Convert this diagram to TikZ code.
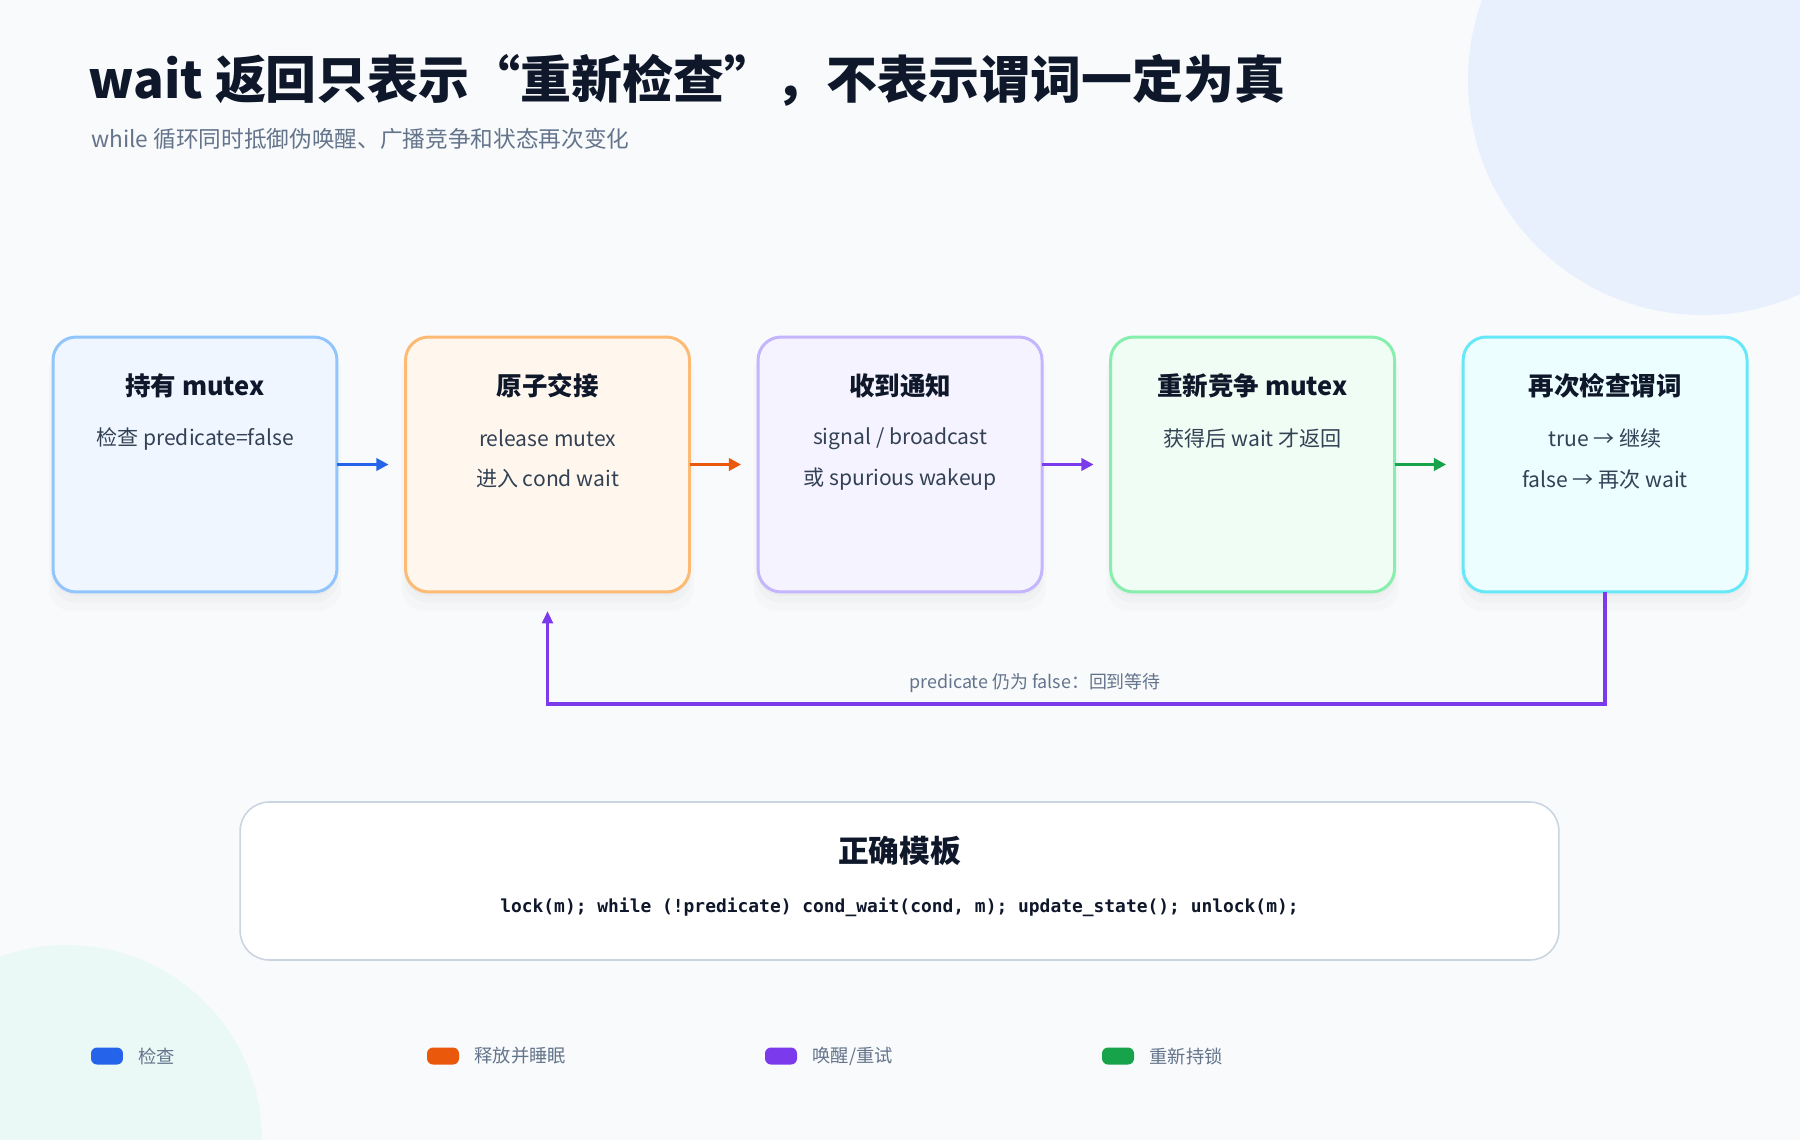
\documentclass[tikz,border=0pt]{standalone}
\usepackage{fontspec}
\setmainfont{Noto Sans CJK SC}
\setmonofont{DejaVu Sans Mono}
\usetikzlibrary{positioning, arrows.meta, calc, shadows}

\definecolor{pagebg}{HTML}{F8FAFC}
\definecolor{ink}{HTML}{0F172A}
\definecolor{bodyink}{HTML}{334155}
\definecolor{muted}{HTML}{64748B}
\definecolor{blobblue}{HTML}{E8F0FD}
\definecolor{blobmint}{HTML}{EAF9F6}
\definecolor{cblue}{HTML}{2563EB}
\definecolor{corange}{HTML}{EA580C}
\definecolor{cpurple}{HTML}{7C3AED}
\definecolor{cgreen}{HTML}{16A34A}
\definecolor{edgeblue}{HTML}{93C5FD}
\definecolor{fillblue}{HTML}{EFF6FF}
\definecolor{edgeorange}{HTML}{FDBA74}
\definecolor{fillorange}{HTML}{FFF7ED}
\definecolor{edgeviolet}{HTML}{C4B5FD}
\definecolor{fillviolet}{HTML}{F5F3FF}
\definecolor{edgegreen}{HTML}{86EFAC}
\definecolor{fillgreen}{HTML}{F0FDF4}
\definecolor{edgecyan}{HTML}{67E8F9}
\definecolor{fillcyan}{HTML}{ECFEFF}
\definecolor{edgegray}{HTML}{CBD5E1}

\begin{document}
\begin{tikzpicture}[x=0.02cm, y=0.02cm, node distance=1.372cm]
    \tikzstyle{stage} = [rectangle, rounded corners=0.46cm, line width=1.7pt, outer sep=0pt, inner sep=0pt,
                         minimum width=5.68cm, minimum height=5.1cm,
                         drop shadow={shadow xshift=0pt, shadow yshift=-0.3cm, shadow scale=1.03, opacity=0.015, fill=black},
                         drop shadow={shadow xshift=0pt, shadow yshift=-0.18cm, shadow scale=1.01, opacity=0.02, fill=black},
                         drop shadow={shadow xshift=0pt, shadow yshift=-0.08cm, opacity=0.02, fill=black}]
    \tikzstyle{stagetitle} = [font=\fontsize{14.5}{17}\bfseries, text=ink, inner sep=0pt]
    \tikzstyle{stagetext} = [font=\fontsize{12}{14}\selectfont, text=bodyink, inner sep=0pt]
    \tikzstyle{flow} = [line width=2.1pt, -{Triangle[length=7pt, width=7pt]}, shorten >=0.34cm]
    \tikzstyle{swatch} = [rectangle, rounded corners=0.12cm, minimum width=0.64cm, minimum height=0.34cm, inner sep=0pt]
    \tikzstyle{legendtext} = [font=\fontsize{10.4}{12}\selectfont, text=muted, inner sep=0pt]

    % Page and background blobs
    \useasboundingbox (0,0) rectangle (1800,-1140);
    \fill[pagebg] (0,0) rectangle (1800,-1140);
    \begin{scope}
        \clip (0,0) rectangle (1800,-1140);
        \fill[blobblue] (1703,-80) circle (235);
        \fill[blobmint] (67,-1140) circle (195);
    \end{scope}

    % Heading
    \node[anchor=west, inner sep=0pt, font=\fontsize{29}{34}\bfseries, text=ink] (title) at (88,-80)
        {wait 返回只表示“重新检查”，不表示谓词一定为真};
    \node[anchor=west, inner sep=0pt, font=\fontsize{12.9}{15}\selectfont, text=muted] (subtitle) at (91,-139)
        {while 循环同时抵御伪唤醒、广播竞争和状态再次变化};

    % Stages
    \node[stage, draw=edgeblue, fill=fillblue] (hold) at (195,-464.5) {};
    \node[stage, draw=edgeorange, fill=fillorange, right=of hold] (swap) {};
    \node[stage, draw=edgeviolet, fill=fillviolet, right=of swap] (notify) {};
    \node[stage, draw=edgegreen, fill=fillgreen, right=of notify] (relock) {};
    \node[stage, draw=edgecyan, fill=fillcyan, right=of relock] (recheck) {};

    \node[stagetitle] (holdT) at ($(hold.north)+(0,-49)$) {持有 mutex};
    \node[stagetext] (holdA) at ($(hold.north)+(0,-101.5)$) {检查 predicate=false};

    \node[stagetitle] (swapT) at ($(swap.north)+(0,-49)$) {原子交接};
    \node[stagetext] (swapA) at ($(swap.north)+(0,-101.5)$) {release mutex};
    \node[stagetext] (swapB) at ($(swap.north)+(0,-142)$) {进入 cond wait};

    \node[stagetitle] (notifyT) at ($(notify.north)+(0,-49)$) {收到通知};
    \node[stagetext] (notifyA) at ($(notify.north)+(0,-101.5)$) {signal / broadcast};
    \node[stagetext] (notifyB) at ($(notify.north)+(0,-142)$) {或 spurious wakeup};

    \node[stagetitle] (relockT) at ($(relock.north)+(0,-49)$) {重新竞争 mutex};
    \node[stagetext] (relockA) at ($(relock.north)+(0,-101.5)$) {获得后 wait 才返回};

    \node[stagetitle] (recheckT) at ($(recheck.north)+(0,-49)$) {再次检查谓词};
    \node[stagetext] (recheckA) at ($(recheck.north)+(0,-101.5)$) {true → 继续};
    \node[stagetext] (recheckB) at ($(recheck.north)+(0,-142)$) {false → 再次 wait};

    % Arrows
    \draw[flow, cblue] (hold.east) -- (swap.west);
    \draw[flow, corange] (swap.east) -- (notify.west);
    \draw[flow, cpurple] (notify.east) -- (relock.west);
    \draw[flow, cgreen] (relock.east) -- (recheck.west);

    % Loop back
    \draw[cpurple, line width=2pt, -{Triangle[length=7pt, width=6pt]}, shorten >=0.38cm]
        (recheck.south) -- ++(0,-112) -| (swap.south);
    \node[font=\fontsize{10.2}{12}\selectfont, text=muted, inner sep=0pt] (loopnote) at (1035,-683)
        {predicate 仍为 false：回到等待};

    % Template
    \node[rectangle, rounded corners=0.58cm, draw=edgegray, line width=0.9pt, fill=white,
          minimum width=26.38cm, minimum height=3.16cm] (tmpl) at (899.5,-881) {};
    \node[font=\fontsize{17.5}{20}\bfseries, text=ink, inner sep=0pt] (tmplT) at ($(tmpl.north)+(0,-50)$) {正确模板};
    \node[font=\fontsize{10.2}{12}\ttfamily\bfseries, text=ink, inner sep=0pt] (tmplC) at ($(tmpl.north)+(0,-106)$)
        {lock(m); while (!predicate) cond\_wait(cond, m); update\_state(); unlock(m);};

    % Legend
    \node[swatch, fill=cblue] (keyA) at (107,-1056) {};
    \node[legendtext, right=0.3cm of keyA] {检查};
    \node[swatch, fill=corange] (keyB) at (443,-1056) {};
    \node[legendtext, right=0.3cm of keyB] {释放并睡眠};
    \node[swatch, fill=cpurple] (keyC) at (781,-1056) {};
    \node[legendtext, right=0.3cm of keyC] {唤醒/重试};
    \node[swatch, fill=cgreen] (keyD) at (1118,-1056) {};
    \node[legendtext, right=0.3cm of keyD] {重新持锁};
\end{tikzpicture}
\end{document}
